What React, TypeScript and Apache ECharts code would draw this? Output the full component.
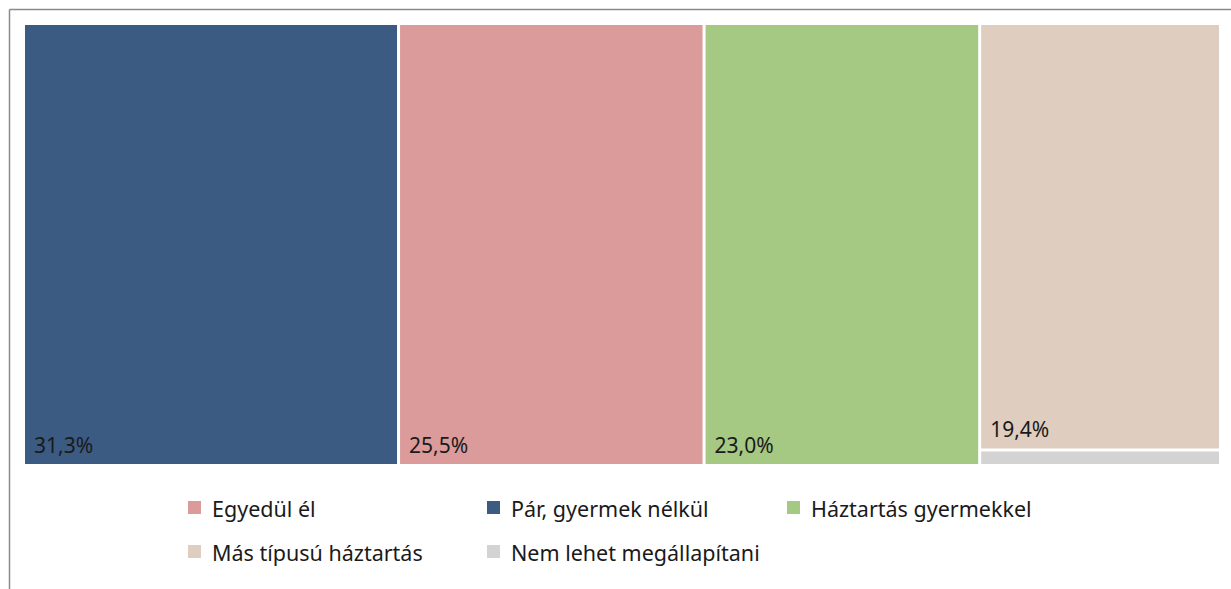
import React, { useEffect, useRef } from "react";
import * as echarts from "echarts";

const categories = ["Pár, gyermek nélkül", "Egyedül él", "Háztartás gyermekkel", "Más típusú háztartás", "Nem lehet megállapítani"];
const values = [31.3, 25.5, 23.0, 19.4, 0.7];
const labels = ["31,3%", "25,5%", "23,0%", "19,4%", ""];
const colors = ["#3b5b83", "#db9b9b", "#a5c883", "#dfcdbf", "#d3d3d3"];

const legendNames = ["Egyedül él", "Pár, gyermek nélkül", "Háztartás gyermekkel", "Más típusú háztartás", "Nem lehet megállapítani"];
const legendColors = ["#db9b9b", "#3b5b83", "#a5c883", "#dfcdbf", "#d3d3d3"];

const FONT = "'Noto Sans', 'Open Sans', sans-serif";

export default function App() {
  const ref = useRef<HTMLDivElement>(null);
  useEffect(() => {
    if (!ref.current) return;
    const chart = echarts.init(ref.current, null, { renderer: "svg" });
    const colX = [188, 487, 787];
    const rowY = [501, 545];
    const legendGraphics: any[] = [];
    legendNames.forEach((name, i) => {
      const col = i % 3;
      const row = Math.floor(i / 3);
      legendGraphics.push({
        type: "rect",
        shape: { x: colX[col], y: rowY[row], width: 13, height: 13 },
        style: { fill: legendColors[i] },
      });
      legendGraphics.push({
        type: "text",
        x: colX[col] + 24,
        y: rowY[row] + 7,
        style: {
          text: name,
          fill: "#1a1a1a",
          font: `21.5px ${FONT}`,
          verticalAlign: "middle",
          align: "left",
        },
      });
    });
    chart.setOption({
      animation: false,
      graphic: [
        { type: "line", shape: { x1: 9.5, y1: 9.5, x2: 1231, y2: 9.5 }, style: { stroke: "#8a8a8a", lineWidth: 1.5 } },
        { type: "line", shape: { x1: 9.5, y1: 9.5, x2: 9.5, y2: 589 }, style: { stroke: "#8a8a8a", lineWidth: 1.5 } },
        ...legendGraphics,
      ],
      series: [
        {
          type: "treemap",
          left: 25,
          top: 25,
          width: 1194,
          height: 439,
          squareRatio: 1,
          roam: false,
          nodeClick: false,
          breadcrumb: { show: false },
          silent: true,
          label: {
            show: true,
            position: "insideBottomLeft",
            distance: 4,
            color: "#1a1a1a",
            fontSize: 21,
            fontFamily: FONT,
            formatter: (p: any) => p.data.labelText,
          },
          levels: [
            { itemStyle: { gapWidth: 3, borderWidth: 0 } },
            { itemStyle: { borderWidth: 0, gapWidth: 0 } },
          ],
          data: categories.map((c, i) => ({
            name: c,
            value: values[i],
            labelText: labels[i],
            itemStyle: { color: colors[i] },
            label: { show: labels[i] !== "" },
          })),
        },
      ],
    });
    return () => chart.dispose();
  }, []);
  return <div ref={ref} style={{ position: "absolute", left: 0, top: 0, width: 1231, height: 589, background: "#fff" }} />;
}
